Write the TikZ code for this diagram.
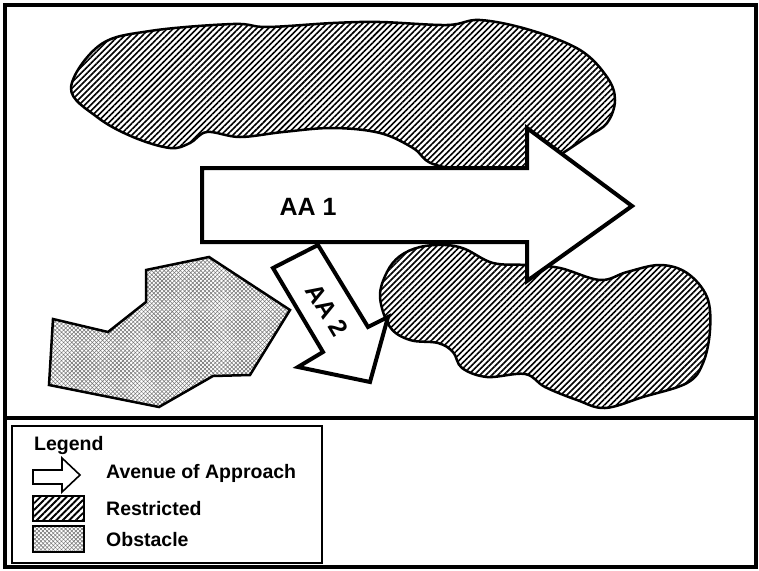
\documentclass[tikz,border=0pt]{standalone}
\usepackage{fontspec}
\setmainfont{Liberation Sans}
\usetikzlibrary{patterns.meta}
\begin{document}
\begin{tikzpicture}[x=1pt,y=-1pt,
  restricted/.style={line width=2.5pt, line join=round,
    pattern={Lines[angle=45,distance=4.2pt,line width=1.6pt]}, pattern color=black},
  obstacle/.style={line width=2.5pt, line join=miter,
    preaction={fill=white},
    preaction={pattern={Lines[angle=45,distance=2.9pt,line width=0.55pt]}, pattern color=black!55},
    pattern={Lines[angle=-45,distance=2.9pt,line width=0.55pt]}, pattern color=black!55},
  approach/.style={draw, fill=white, line width=4pt, line join=miter},
  aalabel/.style={font=\bfseries\fontsize{25}{25}\selectfont, inner sep=0pt},
  legtext/.style={font=\bfseries\fontsize{19.5}{19.5}\selectfont, anchor=west, inner sep=0pt},
  legbox/.style={line width=2.8pt}
]
\useasboundingbox (0,0) rectangle (759,570);
\fill[white] (0,0) rectangle (759,570);

% terrain: restricted areas
\draw[restricted] plot[smooth cycle, tension=0.6] coordinates {
  (71,88) (100,45) (150,31) (233,24) (267,27) (333,23) (380,22) (447,25)
  (480,20) (530,30) (580,50) (607,77) (615,100) (607,123) (587,137)
  (555,158) (530,172) (480,172) (433,164) (413,148) (380,133) (333,128)
  (283,132) (240,137) (207,132) (190,143) (170,148) (133,137) (97,117)};
\draw[restricted] plot[smooth cycle, tension=0.6] coordinates {
  (380,297) (387,272) (400,256) (420,247) (445,245) (465,249) (493,263)
  (527,265) (560,268) (600,280) (627,272) (660,265) (687,273) (707,297)
  (710,330) (703,363) (687,383) (643,397) (605,408) (577,400) (545,387)
  (525,374) (487,377) (462,368) (453,352) (438,343) (410,340) (390,327)};

% terrain: obstacle
\draw[obstacle] (53,319) -- (108,332) -- (146,302) -- (146,270) -- (209,257)
  -- (290,310) -- (250,375) -- (213,376) -- (159,407) -- (49,385) -- cycle;

% avenues of approach
\path[approach] (273,268) -- (318,245) -- (368,327) -- (388,317) -- (370,382)
  -- (298,367) -- (323,352) -- cycle;
\node[aalabel, rotate=-59] (aa2) at (327,310) {AA 2};
\path[approach] (202,168) -- (527,168) -- (527,128) -- (632,206) -- (527,281)
  -- (527,242) -- (202,242) -- cycle;
\node[aalabel] (aa1) at (308,207) {AA 1};

% frame
\draw[line width=3.5pt] (5,5) rectangle (756,567);
\draw[line width=3.5pt] (5,418) -- (756,418);

% legend
\draw[legbox] (12,426) rectangle (322,563);
\node[legtext] (leg) at (34,445) {Legend};
\draw[line width=1.6pt, line join=miter, fill=white] (33,470) -- (62,470) -- (62,458)
  -- (80,475) -- (62,492) -- (62,484) -- (33,484) -- cycle;
\node[legtext] (legaa) at (106,473) {Avenue of Approach};
\draw[legbox, pattern={Lines[angle=45,distance=4.6pt,line width=1.8pt]}] (33,496) rectangle (84,521);
\node[legtext] (legr) at (106,509) {Restricted};
\draw[legbox, obstacle, line width=2.8pt] (33,526) rectangle (84,552);
\node[legtext] (lego) at (106,540) {Obstacle};
\end{tikzpicture}
\end{document}
